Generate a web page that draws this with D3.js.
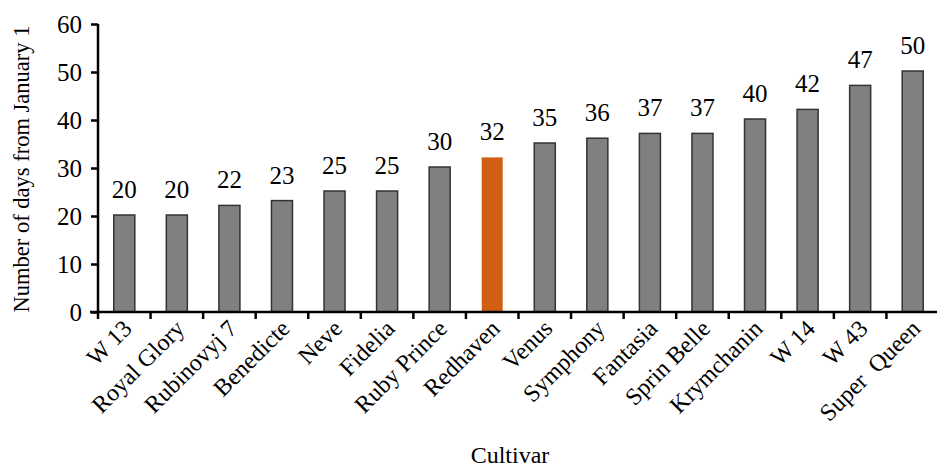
<!DOCTYPE html>
<html>
<head>
<meta charset="utf-8">
<script src="https://cdn.jsdelivr.net/npm/d3@7"></script>
<style>
  body { margin: 0; background: #fff; }
  text { font-family: "Liberation Serif", serif; }
</style>
</head>
<body>
<svg id="chart"></svg>
<script>
const cultivars = ['W 13', 'Royal Glory', 'Rubinovyj 7', 'Benedicte', 'Neve', 'Fidelia', 'Ruby Prince',
    'Redhaven', 'Venus', 'Symphony', 'Fantasia', 'Sprin Belle', 'Krymchanin', 'W 14', 'W 43', 'Super  Queen'];
const days = [20, 20, 22, 23, 25, 25, 30, 32, 35, 36, 37, 37, 40, 42, 47, 50];
const highlight = ['Redhaven'];
const yTicks = [0, 10, 20, 30, 40, 50, 60];

const width = 937, height = 468;
const margin = { top: 24, right: -2, bottom: 156, left: 98 };

let svg = d3.select('#chart')
    .attr('width', width)
    .attr('height', height);

let x = d3.scaleBand()
    .domain(cultivars)
    .range([margin.left, width - margin.right])
    .paddingInner(0.6)
    .paddingOuter(0.3);

let y = d3.scaleLinear()
    .domain([0, 60])
    .range([height - margin.bottom, margin.top]);

// bars
svg.selectAll('rect.bar')
    .data(days)
    .enter()
    .append('rect')
    .attr('class', 'bar')
    .attr('x', (d, i) => x(cultivars[i]))
    .attr('width', x.bandwidth())
    .attr('y', d => y(d) - 1)
    .attr('height', d => y(0) - y(d) + 1)
    .attr('fill', (d, i) => highlight.includes(cultivars[i]) ? '#d05f14' : '#808080')
    .attr('stroke', (d, i) => highlight.includes(cultivars[i]) ? 'none' : '#333')
    .attr('stroke-width', 1.5);

// value labels
svg.selectAll('text.val')
    .data(days)
    .enter()
    .append('text')
    .attr('class', 'val')
    .attr('x', (d, i) => x(cultivars[i]) + x.bandwidth() / 2)
    .attr('y', d => y(d) - 18)
    .attr('text-anchor', 'middle')
    .style('font-size', '25px')
    .attr('fill', '#000')
    .text(d => d);

// y axis
let yAxis = svg.append('g')
    .attr('transform', `translate(${margin.left},0)`)
    .call(d3.axisLeft(y).tickValues(yTicks).tickSize(7).tickPadding(9));
yAxis.select('.domain').attr('d', `M0,${y(60)}V${y(0)}`);
yAxis.selectAll('path, line').attr('stroke', '#000').attr('stroke-width', 2.5);
yAxis.selectAll('text').style('font-size', '25px').attr('fill', '#000').attr('dy', '0.35em');

// x axis: ticks at the band boundaries
let step = x.step();
let edges = d3.range(cultivars.length + 1).map(i => x(cultivars[0]) - step * x.paddingInner() / 2 + i * step);
let xAxis = svg.append('g');
xAxis.append('line')
    .attr('x1', margin.left - 8).attr('x2', width)
    .attr('y1', y(0)).attr('y2', y(0))
    .attr('stroke', '#000').attr('stroke-width', 2.5);
xAxis.selectAll('line.tick')
    .data(edges)
    .enter()
    .append('line')
    .attr('class', 'tick')
    .attr('x1', d => d).attr('x2', d => d)
    .attr('y1', y(0)).attr('y2', y(0) + 7)
    .attr('stroke', '#000').attr('stroke-width', 2.5);

xAxis.selectAll('text.cat')
    .data(cultivars)
    .enter()
    .append('text')
    .attr('class', 'cat')
    .attr('text-anchor', 'end')
    .style('font-size', '24px')
    .style('white-space', 'pre')
    .attr('fill', '#000')
    .attr('transform', d => `translate(${x(d) + x.bandwidth() / 2 + 9},${y(0) + 18}) rotate(-45)`)
    .text(d => d);

// axis titles
svg.append('text')
    .attr('transform', `translate(29,${(y(0) + y(60)) / 2 + 1}) rotate(-90)`)
    .attr('text-anchor', 'middle')
    .style('font-size', '22.5px')
    .attr('fill', '#000')
    .text('Number of days from January 1');

svg.append('text')
    .attr('x', 510)
    .attr('y', 463)
    .attr('text-anchor', 'middle')
    .style('font-size', '24px')
    .attr('fill', '#000')
    .text('Cultivar');
</script>
</body>
</html>
